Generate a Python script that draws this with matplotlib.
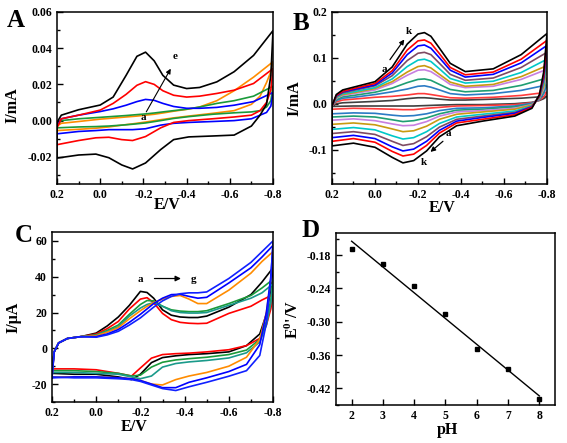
import numpy as np
import matplotlib
matplotlib.use('Agg')
import matplotlib.pyplot as plt
from matplotlib.ticker import MultipleLocator, FormatStrFormatter

plt.rcParams['font.family'] = 'Liberation Serif'
plt.rcParams['font.weight'] = 'bold'
plt.rcParams['axes.unicode_minus'] = False
plt.rcParams['mathtext.fontset'] = 'custom'
plt.rcParams['mathtext.rm'] = 'Liberation Serif:bold'
plt.rcParams['mathtext.bf'] = 'Liberation Serif:bold'
plt.rcParams['mathtext.it'] = 'Liberation Serif:bold'

# ---- panel A: CVs a..e (forward branch 0.2 -> -0.8, reverse -0.8 -> 0.2), mA
EA_UP = [0.2, 0.18, 0.1, 0.0, -0.06, -0.12, -0.17, -0.21, -0.25, -0.29, -0.34, -0.4, -0.46, -0.54, -0.62, -0.71, -0.8]
EA_DN = [-0.8, -0.79, -0.77, -0.74, -0.7, -0.62, -0.52, -0.41, -0.34, -0.28, -0.21, -0.15, -0.1, -0.04, 0.02, 0.1, 0.2]
A_UP = [
    [-0.003, -0.0015, -0.0005, 0.0008, 0.0014, 0.002, 0.0025, 0.003, 0.0035, 0.0042, 0.0052, 0.0062, 0.0075, 0.011, 0.0165, 0.024, 0.0325],
    [-0.002, 0.0, 0.001, 0.0018, 0.0023, 0.0028, 0.0033, 0.0037, 0.0042, 0.0048, 0.0055, 0.0063, 0.0075, 0.0095, 0.011, 0.0135, 0.019],
    [-0.003, 0.001, 0.003, 0.005, 0.0065, 0.0085, 0.0105, 0.0117, 0.0112, 0.0095, 0.0078, 0.0068, 0.0068, 0.0073, 0.0085, 0.0105, 0.0155],
    [-0.004, 0.001, 0.003, 0.0058, 0.0095, 0.0145, 0.0195, 0.0215, 0.020, 0.0165, 0.014, 0.013, 0.0135, 0.015, 0.0168, 0.0205, 0.0287],
    [-0.001, 0.003, 0.006, 0.0086, 0.013, 0.025, 0.0355, 0.0378, 0.033, 0.025, 0.0196, 0.0177, 0.0183, 0.0214, 0.027, 0.036, 0.0497],
]
A_DN = [
    [0.0325, 0.027, 0.021, 0.0135, 0.009, 0.0055, 0.004, 0.0025, 0.0015, 0.0005, -0.0008, -0.0018, -0.0025, -0.0035, -0.0042, -0.0048, -0.0055],
    [0.019, 0.011, 0.0075, 0.0055, 0.0048, 0.0043, 0.0035, 0.0022, 0.0012, 0.0, -0.0013, -0.002, -0.0025, -0.003, -0.0033, -0.0035, -0.004],
    [0.0155, 0.008, 0.0045, 0.003, 0.001, 0.0, -0.0005, -0.001, -0.0015, -0.0025, -0.0045, -0.005, -0.005, -0.005, -0.0055, -0.006, -0.0073],
    [0.0287, 0.017, 0.01, 0.0055, 0.003, 0.002, 0.001, 0.0, -0.001, -0.004, -0.0088, -0.011, -0.0105, -0.0092, -0.0095, -0.011, -0.0133],
    [0.0497, 0.025, 0.009, 0.003, -0.003, -0.008, -0.0085, -0.009, -0.0105, -0.016, -0.0234, -0.0267, -0.0245, -0.0205, -0.0185, -0.019, -0.0207],
]
A_COLORS = ['#ff8c00', '#1a9a3a', '#0000ff', '#ff0000', '#000000']

# ---- panel B: CVs a..k, mA
EB_UP = [0.2, 0.18, 0.15, 0.1, 0.0, -0.08, -0.15, -0.2, -0.23, -0.26, -0.3, -0.35, -0.42, -0.55, -0.68, -0.8]
EB_DN = [-0.8, -0.785, -0.765, -0.73, -0.65, -0.5, -0.38, -0.3, -0.24, -0.18, -0.13, -0.08, 0.0, 0.1, 0.2]
B_UP = [
    [-0.005, 0.0, 0.002, 0.003, 0.005, 0.007, 0.011, 0.013, 0.013, 0.012, 0.01, 0.008, 0.008, 0.01, 0.012, 0.016],
    [-0.005, 0.004, 0.008, 0.010, 0.014, 0.016, 0.019, 0.022, 0.022, 0.020, 0.017, 0.013, 0.012, 0.014, 0.018, 0.025],
    [-0.005, 0.007, 0.012, 0.014, 0.020, 0.026, 0.032, 0.038, 0.039, 0.036, 0.030, 0.022, 0.019, 0.022, 0.029, 0.041],
    [-0.005, 0.009, 0.015, 0.018, 0.025, 0.034, 0.046, 0.053, 0.054, 0.051, 0.042, 0.031, 0.026, 0.029, 0.040, 0.056],
    [-0.005, 0.012, 0.018, 0.022, 0.030, 0.044, 0.062, 0.073, 0.074, 0.070, 0.058, 0.042, 0.035, 0.038, 0.053, 0.075],
    [-0.005, 0.013, 0.020, 0.024, 0.033, 0.048, 0.069, 0.081, 0.083, 0.078, 0.064, 0.047, 0.038, 0.042, 0.059, 0.083],
    [-0.005, 0.014, 0.022, 0.026, 0.035, 0.054, 0.081, 0.095, 0.097, 0.092, 0.076, 0.055, 0.045, 0.049, 0.068, 0.097],
    [-0.005, 0.016, 0.024, 0.029, 0.039, 0.061, 0.094, 0.110, 0.112, 0.107, 0.088, 0.064, 0.051, 0.056, 0.079, 0.112],
    [-0.005, 0.017, 0.026, 0.031, 0.041, 0.067, 0.107, 0.126, 0.128, 0.121, 0.100, 0.073, 0.058, 0.064, 0.089, 0.127],
    [-0.005, 0.018, 0.027, 0.033, 0.044, 0.072, 0.117, 0.137, 0.139, 0.132, 0.109, 0.079, 0.063, 0.069, 0.097, 0.138],
    [-0.005, 0.020, 0.030, 0.036, 0.048, 0.080, 0.130, 0.152, 0.155, 0.147, 0.121, 0.088, 0.070, 0.076, 0.107, 0.153],
]
B_DN = [
    [0.016, 0.011, 0.007, 0.003, 0.0, -0.002, -0.002, -0.003, -0.004, -0.005, -0.005, -0.005, -0.005, -0.005, -0.006],
    [0.025, 0.015, 0.008, 0.002, -0.002, -0.004, -0.005, -0.008, -0.010, -0.013, -0.013, -0.012, -0.011, -0.010, -0.012],
    [0.041, 0.022, 0.009, 0.001, -0.005, -0.009, -0.010, -0.015, -0.022, -0.026, -0.027, -0.025, -0.021, -0.020, -0.022],
    [0.056, 0.027, 0.011, -0.001, -0.007, -0.012, -0.014, -0.022, -0.031, -0.037, -0.039, -0.035, -0.029, -0.027, -0.029],
    [0.075, 0.032, 0.012, -0.002, -0.010, -0.015, -0.018, -0.027, -0.039, -0.047, -0.048, -0.044, -0.037, -0.033, -0.036],
    [0.083, 0.038, 0.013, -0.003, -0.012, -0.018, -0.023, -0.034, -0.049, -0.059, -0.061, -0.055, -0.046, -0.042, -0.045],
    [0.097, 0.045, 0.015, -0.005, -0.016, -0.023, -0.029, -0.043, -0.061, -0.074, -0.077, -0.070, -0.057, -0.052, -0.056],
    [0.112, 0.052, 0.016, -0.006, -0.019, -0.027, -0.034, -0.051, -0.072, -0.087, -0.091, -0.082, -0.067, -0.061, -0.065],
    [0.127, 0.058, 0.017, -0.007, -0.021, -0.030, -0.038, -0.058, -0.082, -0.099, -0.103, -0.094, -0.076, -0.069, -0.074],
    [0.138, 0.063, 0.018, -0.008, -0.024, -0.034, -0.042, -0.064, -0.091, -0.110, -0.114, -0.104, -0.084, -0.076, -0.082],
    [0.153, 0.070, 0.020, -0.010, -0.027, -0.038, -0.048, -0.072, -0.103, -0.124, -0.129, -0.117, -0.095, -0.086, -0.092],
]
B_COLORS = ['#404040', '#ff3b3b', '#2b7bc4', '#1f9e73', '#c77fe0', '#c89a10',
            '#00c8c8', '#7e4a63', '#0000ff', '#ff0000', '#000000']

# ---- panel C: CVs a..g, uA
EC_UP = [0.2, 0.19, 0.17, 0.13, 0.07, 0.0, -0.05, -0.1, -0.15, -0.2, -0.23, -0.26, -0.3, -0.34, -0.38, -0.42, -0.46, -0.5, -0.6, -0.7, -0.75, -0.8]
EC_DN = [-0.8, -0.79, -0.77, -0.74, -0.68, -0.6, -0.5, -0.42, -0.36, -0.3, -0.25, -0.2, -0.16, -0.1, 0.0, 0.1, 0.2]
C_UP = [
    [-14, -2, 3, 5.5, 6.5, 8.5, 12.5, 17.5, 24, 31.8, 31.2, 28, 21.5, 18.5, 17.5, 17.2, 17.2, 18, 23, 30, 37, 45],
    [-11.5, -2, 3, 5.5, 6.5, 8, 11, 15, 22, 27.5, 28.3, 25.5, 19.5, 16, 14.5, 14, 13.8, 14, 19.5, 23.5, 27, 30],
    [-12.5, -2, 3, 5.5, 6.5, 7.5, 10, 13, 19, 24.5, 26.7, 26.5, 23.5, 21.5, 20.8, 20.5, 20.5, 21, 25, 29.5, 33.7, 38.5],
    [-13.5, -2, 3, 5.5, 6.5, 7.2, 9.5, 12, 18, 22.5, 24.5, 25.5, 23.5, 21, 20, 19.7, 19.7, 20, 24, 28, 31, 36],
    [-16, -2, 3, 5.5, 6.5, 7, 9, 11.5, 16.5, 21, 23.5, 25.5, 27.5, 29, 29.5, 27.5, 25, 25, 32.5, 42, 48.5, 54],
    [-16.5, -2, 3, 5.5, 6.5, 6.5, 8, 10.5, 14.5, 19, 22, 25, 28, 30, 30.2, 29, 28, 28.5, 36.5, 45, 51, 57.5],
    [-16, -2, 3, 5.5, 6.5, 6.2, 7.5, 9.5, 13, 17, 20, 23, 26.5, 29, 30.5, 31, 31, 31.5, 39, 48, 54, 60],
]
C_DN = [
    [45, 33, 19, 8, 1.5, -2, -3, -3.5, -4.2, -5.2, -8, -14.5, -17.5, -16, -14.5, -14.5, -14],
    [30, 22, 13, 5.5, 1.5, -0.8, -2, -2.7, -3, -3.5, -5.5, -11, -15.5, -14, -12, -11.5, -11.5],
    [38.5, 27, 15, 5, -1, -3.5, -5, -5.8, -6.5, -7.8, -10.5, -15, -15.5, -14, -13, -12.5, -12.5],
    [36, 25, 13, 3.5, -2.5, -5.4, -6.8, -7.6, -8.5, -10.5, -15.5, -17, -16, -14.5, -14, -13.5, -13.5],
    [54, 38, 20, 5, -5, -10, -13.5, -15.5, -17.5, -20.5, -20, -18, -17, -16.5, -16, -16, -16],
    [57.5, 40, 20, 2, -9, -13, -16.5, -19, -22, -22, -20, -18, -17, -16.5, -16, -16, -16.5],
    [60, 38, 14, -4, -12.5, -15.6, -19, -21.5, -23.6, -22.5, -20.5, -18.5, -17.5, -17, -16.5, -16.5, -16],
]
C_COLORS = ['#000000', '#ff0000', '#1a9a3a', '#1a9a8a', '#ff8c00', '#0000ff', '#1020ff']

# ---- panel D: formal potential vs pH
PH = [2, 3, 4, 5, 6, 7, 8]
E0 = [-0.169, -0.196, -0.236, -0.286, -0.349, -0.385, -0.439]


def cv(ax, e_up, i_up, e_dn, i_dn, color):
    e = list(e_up) + list(e_dn) + [e_up[0]]
    i = list(i_up) + list(i_dn) + [i_up[0]]
    ax.plot(e, i, color=color, lw=1.2, solid_joinstyle='round')


def style(ax):
    for s in ax.spines.values():
        s.set_linewidth(1.1)
    ax.tick_params(which='both', direction='in', top=False, right=False,
                   labelsize=8.5, width=1)
    ax.tick_params(which='major', length=4)
    ax.tick_params(which='minor', length=2)
    for t in ax.get_xticklabels() + ax.get_yticklabels():
        t.set_fontweight('bold')


fig = plt.figure(figsize=(5.67, 4.43), dpi=100)
axA = fig.add_axes([0.1005, 0.5847, 0.381, 0.3883])
axB = fig.add_axes([0.5855, 0.5847, 0.3792, 0.3883])
axC = fig.add_axes([0.0917, 0.0926, 0.3898, 0.3837])
axD = fig.add_axes([0.5926, 0.0858, 0.3862, 0.3883])

# A
for up, dn, c in zip(A_UP, A_DN, A_COLORS):
    cv(axA, EA_UP, up, EA_DN, dn, c)
axA.set_xlim(0.2, -0.8)
axA.set_ylim(-0.035, 0.06)
axA.xaxis.set_major_locator(MultipleLocator(0.2))
axA.xaxis.set_minor_locator(MultipleLocator(0.1))
axA.yaxis.set_major_locator(MultipleLocator(0.02))
axA.yaxis.set_minor_locator(MultipleLocator(0.01))
axA.xaxis.set_major_formatter(FormatStrFormatter('%.1f'))
axA.yaxis.set_major_formatter(FormatStrFormatter('%.2f'))
axA.set_xlabel('E/V', fontsize=11.5, fontweight='bold')
axA.set_ylabel('I/mA', fontsize=11.5, fontweight='bold')
axA.xaxis.set_label_coords(0.51, -0.075)
axA.yaxis.set_label_coords(-0.17, 0.46)
axA.annotate('', xy=(-0.333, 0.030), xytext=(-0.207, 0.0035),
             arrowprops=dict(arrowstyle='-|>', color='black', lw=0.8, mutation_scale=7))
axA.text(-0.2, 0.0015, 'a', fontsize=8, ha='center', va='center')
axA.text(-0.348, 0.0352, 'e', fontsize=8, ha='center', va='center')
style(axA)

# B
for up, dn, c in zip(B_UP, B_DN, B_COLORS):
    cv(axB, EB_UP, up, EB_DN, dn, c)
axB.set_xlim(0.2, -0.8)
axB.set_ylim(-0.175, 0.2)
axB.xaxis.set_major_locator(MultipleLocator(0.2))
axB.xaxis.set_minor_locator(MultipleLocator(0.1))
axB.yaxis.set_major_locator(MultipleLocator(0.1))
axB.yaxis.set_minor_locator(MultipleLocator(0.05))
axB.xaxis.set_major_formatter(FormatStrFormatter('%.1f'))
axB.yaxis.set_major_formatter(FormatStrFormatter('%.1f'))
axB.set_xlabel('E/V', fontsize=11.5, fontweight='bold')
axB.set_ylabel('I/mA', fontsize=11.5, fontweight='bold')
axB.xaxis.set_label_coords(0.51, -0.093)
axB.yaxis.set_label_coords(-0.135, 0.5)
axB.annotate('', xy=(-0.144, 0.145), xytext=(-0.062, 0.091),
             arrowprops=dict(arrowstyle='-|>', color='black', lw=0.9, mutation_scale=7))
axB.text(-0.043, 0.074, 'a', fontsize=8, ha='center', va='center')
axB.text(-0.158, 0.157, 'k', fontsize=8, ha='center', va='center')
axB.annotate('', xy=(-0.248, -0.109), xytext=(-0.326, -0.078),
             arrowprops=dict(arrowstyle='-|>', color='black', lw=0.9, mutation_scale=7))
axB.text(-0.341, -0.064, 'a', fontsize=8, ha='center', va='center')
axB.text(-0.225, -0.128, 'k', fontsize=8, ha='center', va='center')
style(axB)

# C
for up, dn, c in zip(C_UP, C_DN, C_COLORS):
    cv(axC, EC_UP, up, EC_DN, dn, c)
axC.set_xlim(0.2, -0.8)
axC.set_ylim(-30, 65)
axC.xaxis.set_major_locator(MultipleLocator(0.2))
axC.xaxis.set_minor_locator(MultipleLocator(0.1))
axC.yaxis.set_major_locator(MultipleLocator(20))
axC.yaxis.set_minor_locator(MultipleLocator(10))
axC.xaxis.set_major_formatter(FormatStrFormatter('%.1f'))
axC.set_xlabel('E/V', fontsize=11.5, fontweight='bold')
axC.set_ylabel('I/μA', fontsize=11.5, fontweight='bold')
axC.xaxis.set_label_coords(0.37, -0.1)
axC.yaxis.set_label_coords(-0.136, 0.5)
axC.annotate('', xy=(-0.396, 39), xytext=(-0.251, 39),
             arrowprops=dict(arrowstyle='-|>', color='black', lw=0.9, mutation_scale=8))
axC.text(-0.2, 38.5, 'a', fontsize=8, ha='center', va='center')
axC.text(-0.441, 38.5, 'g', fontsize=8, ha='center', va='center')
style(axC)

# D
k, b = np.polyfit(PH, E0, 1)
fit_x = np.array([PH[0], PH[-1]])
axD.plot(fit_x, k * fit_x + b, color='black', lw=1.0)
axD.plot(PH, E0, 's', color='black', ms=3.5)
axD.set_xlim(1.5, 8.5)
axD.set_ylim(-0.45, -0.14)
axD.xaxis.set_major_locator(MultipleLocator(1))
axD.yaxis.set_major_locator(MultipleLocator(0.06))
axD.yaxis.set_minor_locator(MultipleLocator(0.03))
axD.yaxis.set_major_formatter(FormatStrFormatter('%.2f'))
axD.set_xlabel('pH', fontsize=11.5, fontweight='bold')
axD.set_ylabel(r"E$^{0}$'/V", fontsize=11.5, fontweight='bold')
axD.xaxis.set_label_coords(0.507, -0.1)
axD.yaxis.set_label_coords(-0.155, 0.5)
style(axD)

for lab, x, y in [('A', 7, 9), ('B', 293, 12), ('C', 15, 224), ('D', 302, 219)]:
    fig.text(x / 567, 1 - y / 443, lab, fontsize=18, fontweight='bold',
             ha='left', va='top')

fig.savefig('out.png', dpi=100)
